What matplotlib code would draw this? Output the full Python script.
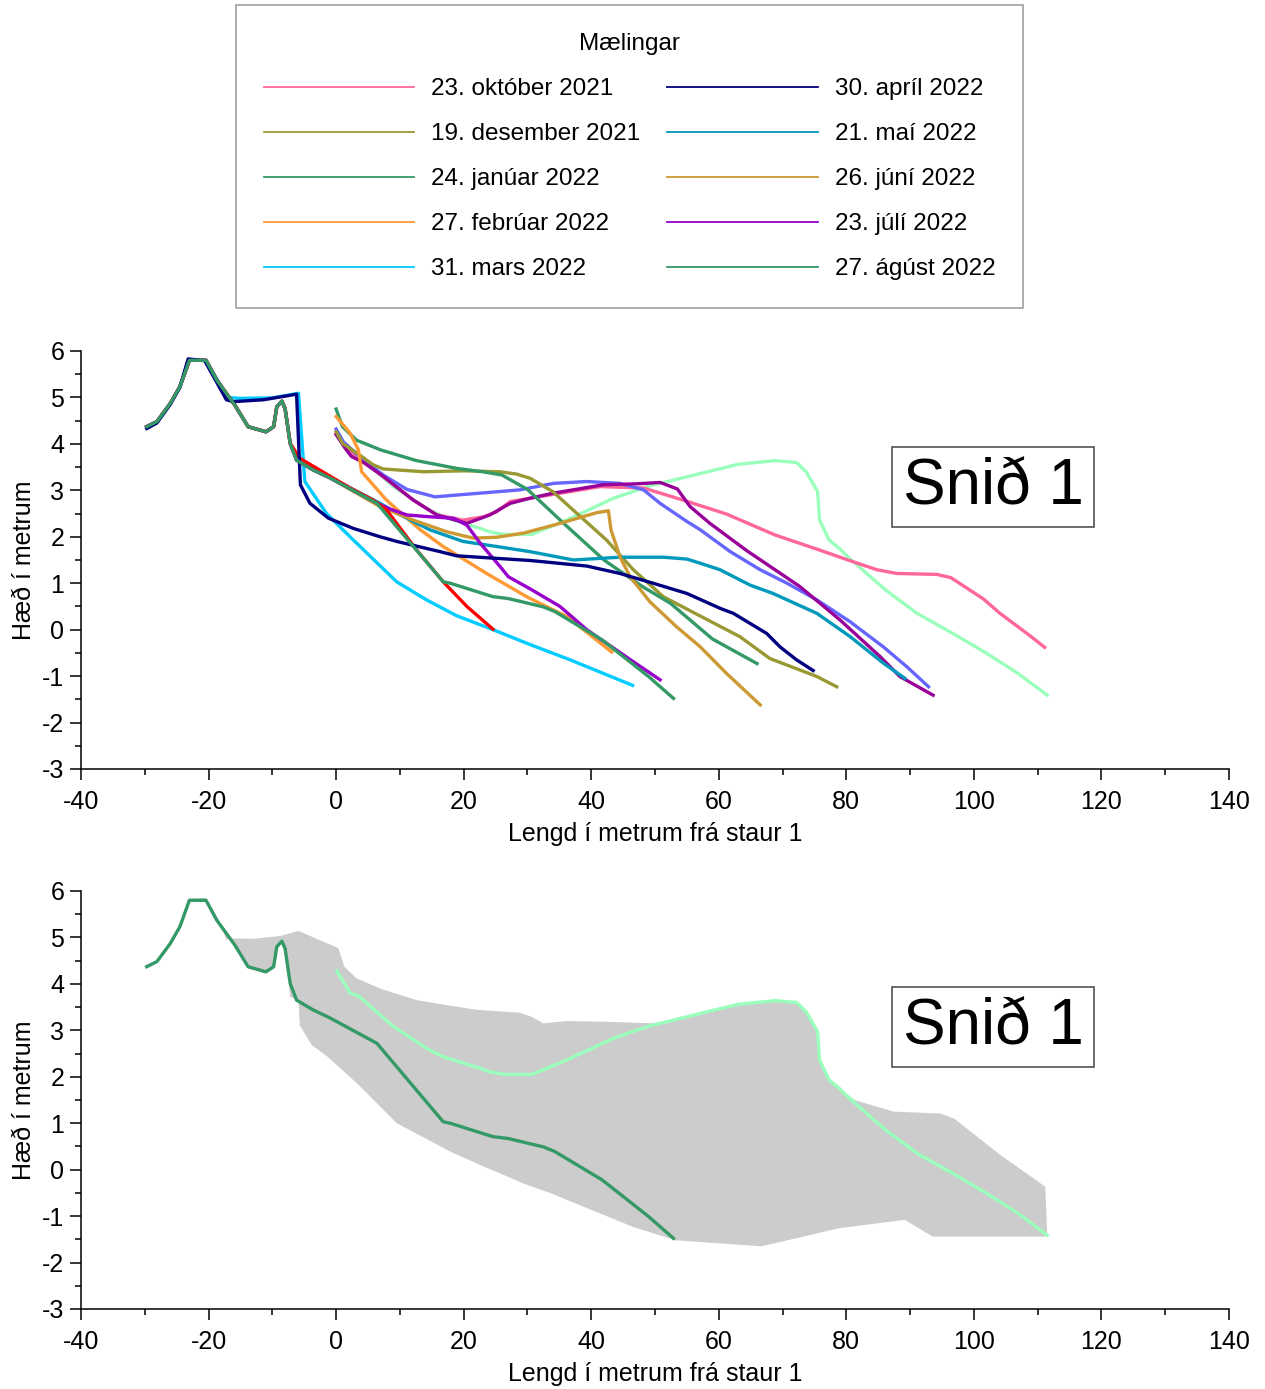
import numpy as np
import matplotlib
matplotlib.use('Agg')
import matplotlib.pyplot as plt
from matplotlib.ticker import MultipleLocator

plt.rcParams['font.family'] = ['Liberation Sans', 'DejaVu Sans']
plt.rcParams['axes.unicode_minus'] = False
narrow = ['Liberation Sans Narrow', 'DejaVu Sans Condensed', 'Liberation Sans', 'DejaVu Sans']

# common profile near the post (staur)
staur_x = [-29.7, -28.1, -26.0, -24.5, -23.0, -20.4, -18.7, -15.9, -13.8, -11.0, -9.8, -9.3, -8.5, -8.0, -7.2, -6.2]
staur_y = [4.37, 4.48, 4.87, 5.23, 5.80, 5.80, 5.37, 4.84, 4.37, 4.26, 4.37, 4.80, 4.92, 4.76, 4.01, 3.65]

# measurements that start at x=0
okt_x = [0, 1.5, 4.3, 7.4, 12.1, 15.8, 19.9, 23.1, 25.2, 27.3, 30.4, 41.4, 48.2, 54.4, 61.2, 68.8, 76.1, 81.1, 84.8, 87.9, 94.2, 96.4, 101.5, 104.1, 108.5, 111.1]
okt_y = [4.22, 3.92, 3.62, 3.29, 2.79, 2.47, 2.36, 2.43, 2.54, 2.76, 2.83, 3.08, 3.05, 2.79, 2.49, 2.04, 1.70, 1.46, 1.29, 1.21, 1.19, 1.12, 0.66, 0.35, -0.10, -0.38]

des_x = [0, 1.0, 3.7, 5.8, 7.4, 13.7, 20.0, 25.7, 28.3, 30.4, 34.0, 37.7, 42.4, 46.6, 51.3, 57.0, 63.3, 68.0, 75.4, 78.5]
des_y = [4.26, 4.01, 3.76, 3.55, 3.46, 3.40, 3.42, 3.40, 3.35, 3.26, 2.97, 2.51, 1.93, 1.29, 0.71, 0.30, -0.15, -0.62, -1.01, -1.23]

jan_x = [0, 1.0, 3.2, 7.0, 12.6, 19.0, 23.0, 26.0, 30.0, 35.6, 42.0, 48.0, 52.4, 59.0, 66.0]
jan_y = [4.75, 4.37, 4.08, 3.87, 3.64, 3.47, 3.40, 3.33, 3.02, 2.30, 1.50, 0.93, 0.57, -0.20, -0.73]

feb_x = [0, 2.2, 3.5, 4.0, 7.9, 13.2, 16.8, 23.6, 30.0, 36.2, 43.2]
feb_y = [4.59, 4.23, 3.87, 3.40, 2.79, 2.15, 1.79, 1.21, 0.70, 0.28, -0.48]

peri_x = [0, 1.1, 4.3, 7.4, 11.1, 15.5, 22.6, 28.8, 34.1, 39.3, 44.5, 48.2, 50.8, 55.0, 57.1, 61.8, 66.5, 70.7, 75.4, 80.6, 85.8, 89.5, 92.9]
peri_y = [4.32, 4.05, 3.65, 3.33, 3.02, 2.86, 2.94, 3.01, 3.15, 3.19, 3.15, 3.01, 2.72, 2.33, 2.15, 1.68, 1.29, 1.00, 0.64, 0.17, -0.37, -0.80, -1.23]

mag_x = [0, 1.4, 2.4, 4.3, 7.4, 12.1, 15.8, 20.5, 24.1, 27.3, 30.4, 34.1, 41.9, 47.1, 50.8, 53.5, 55.5, 58.6, 64.4, 72.7, 79.0, 85.3, 88.4, 93.6]
mag_y = [4.20, 3.91, 3.73, 3.60, 3.30, 2.79, 2.47, 2.29, 2.47, 2.72, 2.83, 2.94, 3.12, 3.14, 3.17, 3.03, 2.65, 2.29, 1.70, 0.93, 0.21, -0.58, -1.01, -1.41]

mint_x = [0.1, 2.2, 3.5, 9.0, 14.2, 16.8, 22.6, 24.0, 26.4, 30.7, 36.8, 43.5, 49.0, 63.0, 68.8, 72.2, 73.7, 75.5, 75.8, 77.3, 78.9, 80.7, 86.2, 91.1, 97.2, 102.0, 106.9, 111.5]
mint_y = [4.28, 3.80, 3.74, 3.08, 2.61, 2.43, 2.18, 2.11, 2.05, 2.05, 2.40, 2.83, 3.09, 3.56, 3.64, 3.60, 3.40, 2.97, 2.36, 1.93, 1.75, 1.51, 0.85, 0.35, -0.12, -0.51, -0.94, -1.41]

# measurements that include the post profile
mars_x = [-29.7, -28.1, -26.0, -24.5, -23.0, -20.4, -18.7, -17.0, -15.0, -10.0, -5.9, -4.9, -1.5, 2.7, 4.3, 9.5, 14.2, 18.9, 24.6, 30.4, 36.7, 46.5]
mars_y = [4.37, 4.48, 4.87, 5.23, 5.80, 5.80, 5.40, 5.00, 4.98, 4.99, 5.09, 3.19, 2.50, 1.93, 1.72, 1.03, 0.64, 0.30, 0.00, -0.32, -0.65, -1.20]

apr_x = [-29.7, -28.1, -26.0, -24.5, -23.2, -20.6, -17.2, -16.1, -11.4, -6.2, -5.6, -4.1, -1.2, 2.7, 6.9, 9.5, 16.3, 18.9, 30.4, 39.3, 44.5, 49.7, 55.0, 60.2, 62.3, 67.5, 69.6, 72.2, 74.8]
apr_y = [4.33, 4.45, 4.85, 5.22, 5.83, 5.79, 4.95, 4.91, 4.95, 5.07, 3.12, 2.72, 2.40, 2.18, 2.00, 1.90, 1.68, 1.59, 1.49, 1.37, 1.21, 1.00, 0.78, 0.46, 0.35, -0.08, -0.37, -0.65, -0.88]

mai_x = [-3.6, -1.0, 6.9, 9.5, 14.7, 19.9, 25.2, 30.4, 37.2, 44.5, 51.3, 55.0, 57.1, 60.2, 64.9, 68.5, 75.4, 80.6, 85.8, 89.2]
mai_y = [3.44, 3.28, 2.72, 2.51, 2.15, 1.90, 1.79, 1.68, 1.50, 1.56, 1.56, 1.52, 1.43, 1.29, 0.96, 0.78, 0.35, -0.15, -0.72, -1.05]

jun_x = [-3.6, -1.0, 6.9, 12.1, 17.3, 21.5, 25.2, 29.4, 34.1, 40.9, 42.7, 43.1, 44.5, 46.1, 49.2, 53.4, 57.1, 61.2, 66.5]
jun_y = [3.44, 3.27, 2.65, 2.36, 2.11, 1.97, 1.99, 2.08, 2.25, 2.52, 2.56, 2.15, 1.57, 1.14, 0.60, 0.06, -0.37, -0.94, -1.62]

jul_x = [-3.6, -1.0, 6.9, 8.4, 11.1, 14.7, 18.4, 20.5, 22.6, 25.7, 27.0, 30.4, 35.1, 39.3, 46.6, 50.8]
jul_y = [3.44, 3.27, 2.69, 2.60, 2.47, 2.43, 2.40, 2.25, 1.86, 1.36, 1.14, 0.88, 0.50, 0.00, -0.69, -1.08]

red_x = [-5.7, 2.2, 5.8, 7.9, 12.6, 16.8, 20.5, 24.6]
red_y = [3.69, 3.05, 2.79, 2.58, 1.72, 1.03, 0.50, 0.01]

agu_x = [-3.6, -1.0, 6.4, 16.8, 17.9, 24.6, 27.0, 32.5, 34.3, 41.7, 49.0, 52.9]
agu_y = [3.44, 3.27, 2.72, 1.03, 1.00, 0.71, 0.67, 0.49, 0.39, -0.22, -1.01, -1.48]

# envelope of all measurements (lower panel)
env_top_x = [-29.7, -28.1, -26.0, -24.5, -23.2, -20.4, -18.7, -17.2, -16.1, -13.0, -8.8, -5.9, 0.35, 1.3, 3.2, 6.9, 12.6, 17.9, 22.1, 28.8, 30.7, 32.5, 36.2, 43.5, 49.6, 52.0, 63.0, 68.8, 72.2, 73.7, 75.5, 75.8, 77.3, 78.9, 81.3, 87.4, 94.7, 96.9, 104.5, 109.4, 111.2, 111.5]
env_top_y = [4.37, 4.48, 4.87, 5.23, 5.83, 5.85, 5.45, 4.95, 4.98, 4.97, 5.03, 5.14, 4.77, 4.37, 4.12, 3.90, 3.65, 3.53, 3.44, 3.38, 3.29, 3.15, 3.20, 3.18, 3.15, 3.20, 3.56, 3.64, 3.60, 3.40, 2.97, 2.36, 1.93, 1.75, 1.50, 1.25, 1.21, 1.10, 0.28, -0.19, -0.37, -1.41]
env_bot_x = [-29.7, -28.1, -26.0, -24.5, -23.0, -20.4, -18.7, -15.9, -13.8, -11.0, -9.8, -9.3, -8.5, -8.0, -7.2, -5.9, -5.7, -3.8, -1.5, 2.7, 4.3, 9.5, 17.9, 22.6, 25.2, 29.4, 33.7, 46.5, 53.2, 66.7, 78.9, 89.2, 93.5, 111.5]
env_bot_y = [4.37, 4.45, 4.84, 5.20, 5.78, 5.78, 5.35, 4.80, 4.33, 4.22, 4.33, 4.75, 4.88, 4.72, 3.72, 3.65, 3.11, 2.68, 2.45, 1.93, 1.72, 1.00, 0.39, 0.10, -0.05, -0.30, -0.51, -1.23, -1.52, -1.65, -1.26, -1.08, -1.44, -1.44]

labels = ['23. október 2021', '19. desember 2021', '24. janúar 2022', '27. febrúar 2022', '31. mars 2022',
          '30. apríl 2022', '21. maí 2022', '26. júní 2022', '23. júlí 2022', '27. ágúst 2022']

fig = plt.figure(figsize=(12.65, 13.89), dpi=100)
W, H = 1265, 1389
ax1 = fig.add_axes([81 / W, 1 - 769 / H, 1148 / W, 418 / H])
ax2 = fig.add_axes([81 / W, 1 - 1309 / H, 1148 / W, 418 / H])

lw = 2.4
ax1.plot(mint_x, mint_y, color='#99ffbb', lw=lw)
h_okt, = ax1.plot(okt_x, okt_y, color='#ff6699', lw=lw)
ax1.plot(peri_x, peri_y, color='#6666ff', lw=lw)
ax1.plot(mag_x, mag_y, color='#990099', lw=lw)
h_des, = ax1.plot(des_x, des_y, color='#999933', lw=lw)
h_jan, = ax1.plot(jan_x, jan_y, color='#339966', lw=lw)
h_feb, = ax1.plot(feb_x, feb_y, color='#ff9933', lw=lw)
h_mars, = ax1.plot(mars_x, mars_y, color='#00ccff', lw=lw)
h_mai, = ax1.plot(staur_x + mai_x, staur_y + mai_y, color='#0099bb', lw=lw)
h_jun, = ax1.plot(staur_x + jun_x, staur_y + jun_y, color='#cc9933', lw=lw)
h_jul, = ax1.plot(staur_x + jul_x, staur_y + jul_y, color='#9900cc', lw=lw)
ax1.plot(staur_x[:-1] + red_x, staur_y[:-1] + red_y, color='#ff0000', lw=lw)
h_apr, = ax1.plot(apr_x, apr_y, color='#000080', lw=lw)
h_agu, = ax1.plot(staur_x + agu_x, staur_y + agu_y, color='#339966', lw=lw)

ax2.fill(env_top_x + env_bot_x[::-1], env_top_y + env_bot_y[::-1], color='#cccccc', lw=0)
ax2.plot(mint_x, mint_y, color='#99ffbb', lw=lw)
ax2.plot(staur_x + agu_x, staur_y + agu_y, color='#339966', lw=lw)

for ax in (ax1, ax2):
    ax.set_xlim(-40, 140)
    ax.set_ylim(-3, 6)
    ax.xaxis.set_major_locator(MultipleLocator(20))
    ax.xaxis.set_minor_locator(MultipleLocator(10))
    ax.yaxis.set_major_locator(MultipleLocator(1))
    ax.yaxis.set_minor_locator(MultipleLocator(0.5))
    for s in ('top', 'right'):
        ax.spines[s].set_visible(False)
    for s in ('left', 'bottom'):
        ax.spines[s].set_linewidth(1.1)
    ax.tick_params(which='major', length=8, width=1.1, labelsize=18, pad=4)
    ax.tick_params(axis='x', which='major', pad=7)
    ax.tick_params(which='minor', length=4, width=1.1)
    ax.set_xlabel('Lengd í metrum frá staur 1', fontsize=18, labelpad=6)
    ax.set_ylabel('Hæð í metrum', fontsize=18, labelpad=4.5)
    ax.text(103, 3.07, 'Snið 1', fontsize=46, ha='center', va='center',
            bbox=dict(boxstyle='square,pad=0.16', fc='white', ec='#444444', lw=1.1))

handles = [h_okt, h_des, h_jan, h_feb, h_mars, h_apr, h_mai, h_jun, h_jul, h_agu]
leg = fig.legend(handles, labels, ncol=2, title='Mælingar', loc='upper center',
                 bbox_to_anchor=(629.5 / W, 1 - 5 / H), borderaxespad=0, frameon=True, fancybox=False,
                 edgecolor='#888888', handlelength=6.2, handletextpad=0.7,
                 columnspacing=1.1, labelspacing=0.95, borderpad=1.15,
                 prop={'family': narrow, 'size': 17.5}, title_fontproperties={'family': narrow, 'size': 17.5})
leg.get_frame().set_linewidth(1.2)
for line in leg.get_lines():
    line.set_linewidth(1.3)

fig.savefig('out.png', dpi=100)
